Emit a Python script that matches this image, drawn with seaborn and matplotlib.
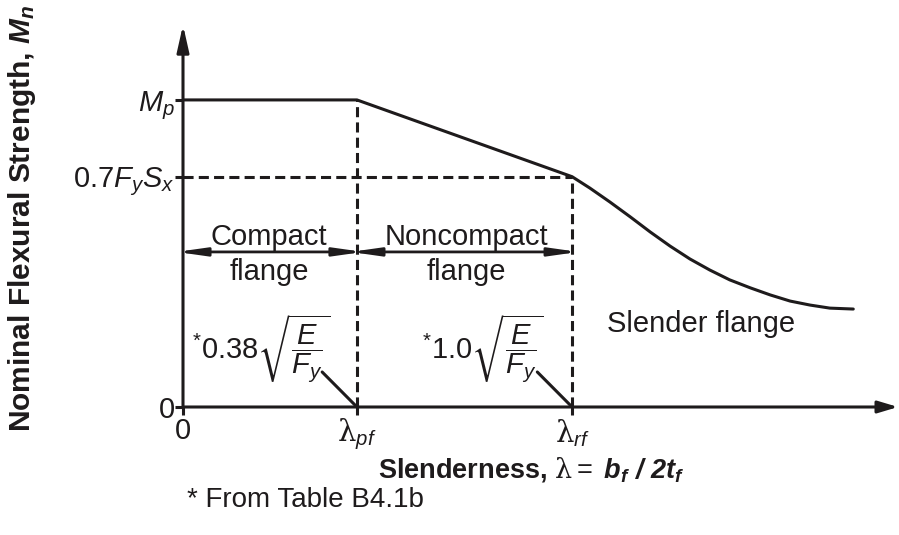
import matplotlib
matplotlib.use("Agg")
import matplotlib.pyplot as plt
import seaborn as sns

# Nominal flexural strength vs. flange slenderness (schematic)
lam_pf = 2.45          # compact limit
lam_rf = 5.48          # noncompact limit
m_p = 1.0              # plastic moment
m_r = 0.75             # 0.7 Fy Sx

# strength curve: plateau, linear transition, elastic buckling tail
curve_lam = [0.0, lam_pf, lam_rf, 5.73, 6.01, 6.30, 6.58, 6.86, 7.14, 7.42,
             7.70, 7.99, 8.27, 8.55, 8.83, 9.11, 9.44]
curve_mn = [m_p, m_p, m_r, 0.713, 0.668, 0.619, 0.570, 0.524, 0.482, 0.446,
            0.414, 0.388, 0.365, 0.345, 0.332, 0.322, 0.319]

xtick_vals = [0.0, lam_pf, lam_rf]
xtick_labels = ["0", r"$\mathsf{\lambda}_{pf}$", r"$\mathsf{\lambda}_{rf}$"]
ytick_vals = [0.0, m_r, m_p]
ytick_labels = ["0", r"$0.7F_yS_x$", r"$M_p$"]

region_labels = ["Compact\nflange", "Noncompact\nflange", "Slender flange"]
limit_formulas = [r"${}^{*}0.38\sqrt{\dfrac{E}{F_y}}$", r"${}^{*}1.0\sqrt{\dfrac{E}{F_y}}$"]

x_end = 10.07
y_end = 1.244

sns.set_theme(style="white")
plt.rcParams["font.family"] = ["Liberation Sans", "DejaVu Sans"]
plt.rcParams["mathtext.fontset"] = "custom"
plt.rcParams["mathtext.rm"] = "Liberation Sans"
plt.rcParams["mathtext.it"] = "Liberation Sans:italic"
plt.rcParams["mathtext.bf"] = "Liberation Sans:bold"
plt.rcParams["mathtext.bfit"] = "Liberation Sans:italic:bold"
plt.rcParams["mathtext.sf"] = "DejaVu Serif"
plt.rcParams["mathtext.fallback"] = "stixsans"

ink = "#1e1b1c"
lw = 2.2

fig = plt.figure(figsize=(8.99, 5.35), dpi=100)
ax = fig.add_axes([183 / 899, 128 / 535, 715 / 899, 382 / 535])
ax.set_xlim(0, x_end)
ax.set_ylim(0, y_end)
for s in ax.spines.values():
    s.set_visible(False)

# strength curve
sns.lineplot(x=curve_lam, y=curve_mn, sort=False, estimator=None, color=ink,
             linewidth=lw, ax=ax, clip_on=False)

# dashed limit lines
dash = (3.3, 1.7)
ax.plot([lam_pf, lam_pf], [0, m_p], color=ink, lw=lw, dashes=dash, clip_on=False)
ax.plot([lam_rf, lam_rf], [0, m_r], color=ink, lw=lw, dashes=dash, clip_on=False)
ax.plot([0, lam_rf], [m_r, m_r], color=ink, lw=lw, dashes=dash, clip_on=False)

# axes with arrowheads
ax.annotate("", xy=(0, y_end), xytext=(0, 0), annotation_clip=False,
            arrowprops=dict(arrowstyle="-|>,head_length=16,head_width=3.6",
                            mutation_scale=1, lw=lw, color=ink, shrinkA=0, shrinkB=0))
ax.annotate("", xy=(x_end, 0), xytext=(0, 0), annotation_clip=False,
            arrowprops=dict(arrowstyle="-|>,head_length=12,head_width=3.6",
                            mutation_scale=1, lw=lw, color=ink, shrinkA=0, shrinkB=0))

ax.set_xticks(xtick_vals)
ax.set_xticklabels(xtick_labels)
ax.set_yticks(ytick_vals)
ax.set_yticklabels(ytick_labels)
ax.tick_params(axis="both", direction="out", length=6, width=lw, color=ink,
               labelcolor=ink, labelsize=21, pad=0)
ax.tick_params(axis="x", pad=1)
ax.tick_params(left=True, bottom=True)

# region arrows and labels
arrow_y = 0.505
reach = 0.09
for x0, x1 in [(0, lam_pf), (lam_pf, lam_rf)]:
    ax.annotate("", xy=(x1 + reach, arrow_y), xytext=(x0 - reach, arrow_y),
                annotation_clip=False,
                arrowprops=dict(arrowstyle="<|-|>,head_length=17,head_width=2.4",
                                mutation_scale=1, lw=2.0, color=ink, shrinkA=0, shrinkB=0))
for xc, lab in zip([1.21, 3.99], region_labels[:2]):
    top, bottom = lab.split("\n")
    ax.text(xc, 0.528, top, ha="center", va="baseline", fontsize=21, color=ink)
    ax.text(xc, 0.414, bottom, ha="center", va="baseline", fontsize=21, color=ink)
ax.text(7.30, 0.244, region_labels[2], ha="center", va="baseline", fontsize=21, color=ink)

# slenderness limit formulas with leader lines
for xc, lam_lim, f in zip([1.10, 4.23], [lam_pf, lam_rf], limit_formulas):
    ax.text(xc, 0.189, f, ha="center", va="center", fontsize=21, color=ink)
    ax.plot([lam_lim - 0.49, lam_lim], [0.114, 0.0], color=ink, lw=lw, clip_on=False)

fig.text(22 / 899, 0.5925, r"Nominal Flexural Strength, $\mathbfit{M}_{\mathbfit{n}}$",
         rotation=90, ha="center", va="center", fontsize=21.5, fontweight="bold", color=ink)
fig.text(531 / 899, 57 / 535,
         r"Slenderness, $\mathsf{\lambda} =$ $\mathbfit{b}_{\mathbfit{f}}\ \mathbfit{/}\ \mathbfit{2t}_{\mathbfit{f}}$",
         ha="center", va="baseline", fontsize=19.5, fontweight="bold", color=ink)
fig.text(187 / 899, 28 / 535, "* From Table B4.1b", ha="left", va="baseline",
         fontsize=20, color=ink)

fig.savefig("out.png", dpi=100)
